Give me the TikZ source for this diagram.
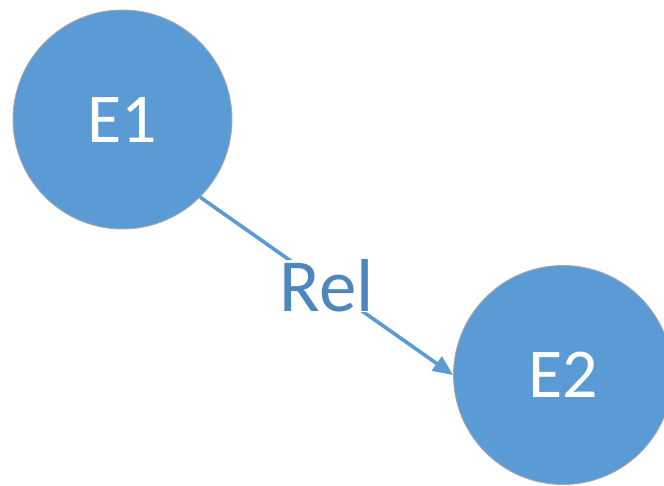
\documentclass[tikz,border=0pt]{standalone}
\usepackage{fontspec}
\setmainfont{Carlito}
\usetikzlibrary{arrows.meta}
\definecolor{entfill}{HTML}{5B9BD5}
\definecolor{entedge}{HTML}{A9A9A9}
\definecolor{reltext}{HTML}{4E86BE}
\tikzset{
  entity/.style={circle, fill=entfill, draw=entedge, line width=0.9pt, minimum size=219pt, inner sep=0pt, text=white, font=\fontsize{70}{70}\selectfont},
  relline/.style={draw=entfill, line width=3.6pt, -{Triangle[length=20pt,width=17pt]}},
  rellabel/.style={fill=white, inner sep=0pt, text=reltext, font=\fontsize{75}{75}\selectfont}
}
\begin{document}
\begin{tikzpicture}[x=1pt,y=-1pt]
\useasboundingbox (0,0) rectangle (664,486);
\clip (0,0) rectangle (664,486);
\node[entity] (e1) at (122.5,119.5) {E1};
\node[entity] (e2) at (563,375) {E2};
\draw[relline] (e1.-45) -- (e2.west) node[pos=0.5, rellabel] (rel) {Rel};
\end{tikzpicture}
\end{document}
